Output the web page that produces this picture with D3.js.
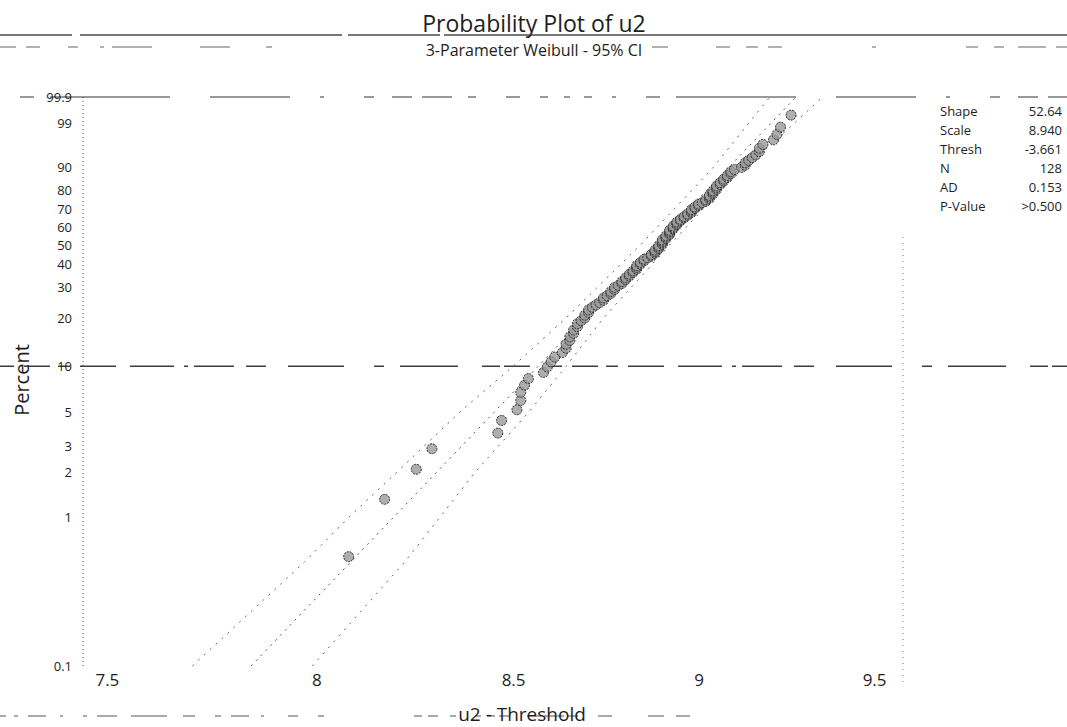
<!DOCTYPE html>
<html>
<head>
<meta charset="utf-8">
<script src="https://cdn.jsdelivr.net/npm/d3@7"></script>
<style>
  body { margin: 0; background: #fff; }
  svg { display: block; }
  text { font-family: "Open Sans", "Noto Sans", sans-serif; fill: #1e1e1e; }
</style>
</head>
<body>
<svg id="chart" width="1067" height="727"></svg>
<script>
// ---- data -------------------------------------------------------------
// u2 - Threshold, sorted ascending (N = 128)
const u2Shifted = [
  8.08, 8.17, 8.25, 8.29, 8.46, 8.47, 8.51, 8.52, 8.52, 8.53,
  8.54, 8.58, 8.59, 8.60, 8.61, 8.63, 8.64, 8.64, 8.65, 8.65,
  8.66, 8.66, 8.67, 8.67, 8.68, 8.69, 8.69, 8.70, 8.70, 8.71,
  8.72, 8.73, 8.74, 8.74, 8.75, 8.76, 8.76, 8.77, 8.77, 8.78,
  8.79, 8.79, 8.80, 8.80, 8.81, 8.81, 8.82, 8.82, 8.83, 8.83,
  8.83, 8.84, 8.84, 8.85, 8.85, 8.86, 8.87, 8.87, 8.88, 8.88,
  8.88, 8.89, 8.89, 8.89, 8.90, 8.90, 8.90, 8.90, 8.91, 8.91,
  8.91, 8.92, 8.92, 8.92, 8.92, 8.93, 8.93, 8.93, 8.94, 8.94,
  8.94, 8.95, 8.95, 8.96, 8.96, 8.97, 8.97, 8.98, 8.98, 8.98,
  8.99, 8.99, 9.00, 9.00, 9.01, 9.02, 9.02, 9.03, 9.03, 9.03,
  9.04, 9.04, 9.04, 9.05, 9.05, 9.05, 9.06, 9.06, 9.07, 9.07,
  9.08, 9.08, 9.09, 9.09, 9.10, 9.12, 9.13, 9.13, 9.14, 9.15,
  9.16, 9.17, 9.17, 9.18, 9.21, 9.22, 9.23, 9.26
];

// fitted 3-parameter Weibull
const shape = 52.64;
const scale = 8.940;

// 95% confidence band (u2 - Threshold) at selected percents
const ciPercent = [0.1, 0.5, 1, 2, 5, 10, 20, 50, 80, 90, 99, 99.9];
const ciLeft    = [7.70, 7.97, 8.08, 8.20, 8.36, 8.50, 8.64, 8.84, 8.98, 9.04, 9.14, 9.20];
const ciRight   = [7.99, 8.22, 8.31, 8.40, 8.54, 8.64, 8.74, 8.92, 9.06, 9.13, 9.27, 9.35];

// axis ticks
const percentTicks = [0.1, 1, 2, 3, 5, 10, 20, 30, 40, 50, 60, 70, 80, 90, 99, 99.9];
const percentTickLabels = ["0.1", "1", "2", "3", "5", "10", "20", "30", "40", "50", "60", "70", "80", "90", "99", "99.9"];
const xTicks = [7.5, 8, 8.5, 9, 9.5];
const xTickLabels = ["7.5", "8", "8.5", "9", "9.5"];

// summary table
const statNames  = ["Shape", "Scale", "Thresh", "N", "AD", "P-Value"];
const statValues = ["52.64", "8.940", "-3.661", "128", "0.153", ">0.500"];

// ---- scales -----------------------------------------------------------
const weib = p => Math.log(-Math.log(1 - p / 100));   // Weibull probability transform

const plot = { left: 83, right: 903, top: 97, bottom: 666 };

const x = d3.scaleLog().domain([7.445, 9.585]).range([plot.left, plot.right]);
const y = d3.scaleLinear().domain([weib(0.1), weib(99.9)]).range([plot.bottom, plot.top]);

const svg = d3.select("#chart");
const W = 1067;

// ---- page rules -------------------------------------------------------
const rules = svg.append("g").attr("fill", "none");
rules.append("line").attr("x1", 0).attr("x2", W).attr("y1", 35).attr("y2", 35)
  .attr("stroke", "#4a4a4a").attr("stroke-width", 1.4)
  .attr("stroke-dasharray", "72,8,262,6,92,4,700");
rules.append("line").attr("x1", 0).attr("x2", W).attr("y1", 47).attr("y2", 47)
  .attr("stroke", "#666").attr("stroke-width", 1)
  .attr("stroke-dasharray", "16,10,14,28,10,22,4,8,40,48,30,36,6,380,16,48,14,16,12,10,14,90,4,90,12");
rules.append("line").attr("x1", 0).attr("x2", W).attr("y1", y(weib(10))).attr("y2", y(weib(10)))
  .attr("stroke", "#3c3c3c").attr("stroke-width", 1.4)
  .attr("stroke-dasharray", "14,10,26,8,12,10,36,14,44,10,4,6,40,12,20,22,56,30,10,16,58,24,18,4,26,18");
rules.append("line").attr("x1", 0).attr("x2", 690).attr("y1", 716).attr("y2", 716)
  .attr("stroke", "#555").attr("stroke-width", 1.2)
  .attr("stroke-dasharray", "6,8,4,10,18,14,3,20,4,10,20,14,36,16,12,20,6,10,18,12,3,24,10,20,6,90,8,6,10,12,6,20,5");

// ---- frame ------------------------------------------------------------
svg.append("line").attr("x1", 20).attr("x2", W).attr("y1", plot.top).attr("y2", plot.top)
  .attr("stroke", "#333").attr("stroke-width", 1.2)
  .attr("stroke-dasharray", "14,16,120,40,80,30,4,40,10,18,20,10,30,16,8,30,14,20,8,16,6,14,8,20,4,30");
svg.append("line").attr("x1", plot.left).attr("x2", plot.left).attr("y1", plot.top).attr("y2", plot.bottom)
  .attr("stroke", "#444").attr("stroke-width", 1).attr("stroke-dasharray", "1,3");
svg.append("line").attr("x1", plot.right).attr("x2", plot.right).attr("y1", plot.top + 140).attr("y2", plot.bottom + 20)
  .attr("stroke", "#777").attr("stroke-width", 1).attr("stroke-dasharray", "1,5");

// ---- axes -------------------------------------------------------------
const yAxis = d3.axisLeft(y)
  .tickValues(percentTicks.map(weib))
  .tickFormat((d, i) => percentTickLabels[i])
  .tickSize(0).tickPadding(0);
const gy = svg.append("g").attr("transform", `translate(${plot.left - 11},0)`).call(yAxis);
gy.select(".domain").remove();
gy.selectAll("text").style("font-size", "13px").attr("fill", "#1e1e1e");

const xAxis = d3.axisBottom(x)
  .tickValues(xTicks)
  .tickFormat((d, i) => xTickLabels[i])
  .tickSize(0).tickPadding(0);
const gx = svg.append("g").attr("transform", `translate(0,${plot.bottom + 8})`).call(xAxis);
gx.select(".domain").remove();
gx.selectAll("text").style("font-size", "17px").attr("fill", "#1e1e1e");

// ---- fitted line and confidence band ---------------------------------
const fitX = p => scale * Math.pow(-Math.log(1 - p / 100), 1 / shape);
const line = d3.line().x(d => x(d[0])).y(d => y(weib(d[1])));

svg.append("path").datum(ciPercent.map(p => [fitX(p), p]))
  .attr("d", line).attr("fill", "none")
  .attr("stroke", "#555").attr("stroke-width", 1).attr("stroke-dasharray", "2,5");
svg.append("path").datum(ciPercent.map((p, i) => [ciLeft[i], p]))
  .attr("d", line).attr("fill", "none")
  .attr("stroke", "#666").attr("stroke-width", 1).attr("stroke-dasharray", "2,6");
svg.append("path").datum(ciPercent.map((p, i) => [ciRight[i], p]))
  .attr("d", line).attr("fill", "none")
  .attr("stroke", "#666").attr("stroke-width", 1).attr("stroke-dasharray", "2,6");

// ---- data points at median ranks --------------------------------------
const n = u2Shifted.length;
svg.append("g").selectAll("circle").data(u2Shifted).join("circle")
  .attr("cx", d => x(d))
  .attr("cy", (d, i) => y(weib(100 * (i + 1 - 0.3) / (n + 0.4))))
  .attr("r", 5)
  .attr("fill", "#9a9a9a")
  .attr("fill-opacity", 0.8)
  .attr("stroke", "#2a2a2a")
  .attr("stroke-width", 1)
  .attr("stroke-dasharray", "2,1");

// ---- titles -----------------------------------------------------------
svg.append("text").attr("x", 534).attr("y", 32).attr("text-anchor", "middle")
  .style("font-size", "23px").text("Probability Plot of u2");
svg.append("text").attr("x", 534).attr("y", 56).attr("text-anchor", "middle")
  .style("font-size", "16px").text("3-Parameter Weibull - 95% CI");
svg.append("text").attr("transform", "translate(29,380) rotate(-90)")
  .attr("text-anchor", "middle").style("font-size", "20px").text("Percent");
svg.append("text").attr("x", 522).attr("y", 721).attr("text-anchor", "middle")
  .style("font-size", "19px").text("u2 - Threshold");

// ---- summary table ----------------------------------------------------
const table = svg.append("g").attr("transform", "translate(940,116)");
table.selectAll("text.name").data(statNames).join("text")
  .attr("class", "name").attr("x", 0).attr("y", (d, i) => i * 19)
  .style("font-size", "13px").text(d => d);
table.selectAll("text.value").data(statValues).join("text")
  .attr("class", "value").attr("x", 122).attr("y", (d, i) => i * 19)
  .attr("text-anchor", "end").style("font-size", "13px").text(d => d);
</script>
</body>
</html>
